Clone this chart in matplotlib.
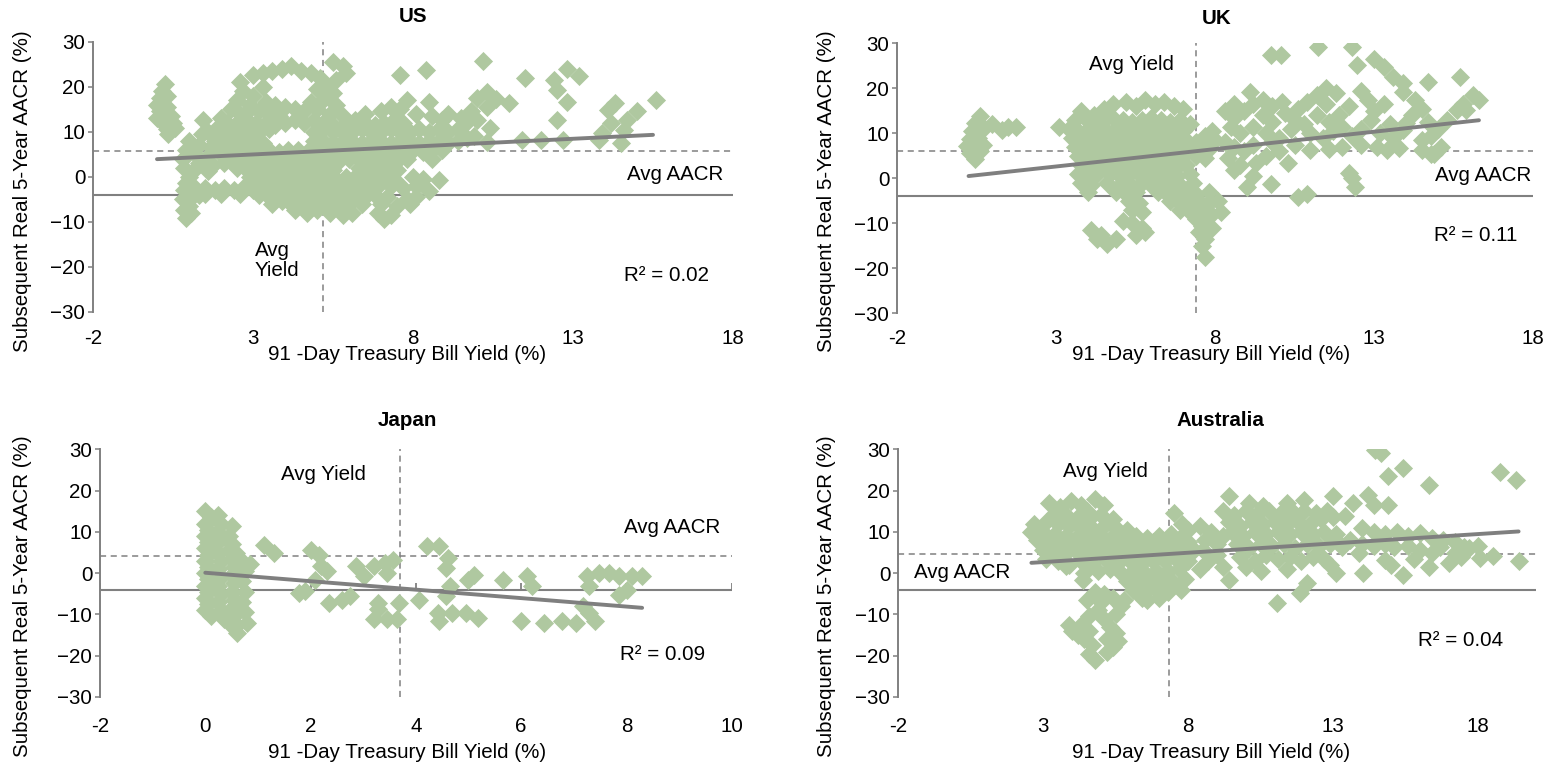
import matplotlib
matplotlib.use("Agg")
import matplotlib.pyplot as plt

plt.rcParams['font.family'] = ['Liberation Sans', 'DejaVu Sans']

# ------------------------------------------------------------------
# Data: (91-day T-bill yield %, subsequent real 5-year AACR %)
# ------------------------------------------------------------------
us_points = [
    (0.25, 20.5), (0.15, 19.0), (0.1, 17.5), (0.0, 16.0), (0.1, 14.5), (0.0, 13.0), (0.2, 12.0),
    (0.3, 10.5), (0.35, 9.5), (0.45, 13.5), (0.5, 12.0), (0.3, 15.5), (0.3, 18.0), (0.55, 10.8),
    (0.9, -9.2), (0.85, -7.5), (1.0, -6.5), (0.8, -5.0), (1.1, -4.5), (0.85, -3.0), (1.2, -2.5),
    (0.9, -1.5), (1.3, -4.0), (1.05, -8.0),
    (0.8, 4.0), (0.9, 6.0), (1.0, 8.0), (0.85, 2.0), (1.1, 1.0), (1.2, 5.0), (1.3, 7.0), (1.4, 9.5),
    (1.45, 12.5), (1.6, 10.0), (1.5, 4.0), (1.7, 6.5), (1.8, 8.0), (1.3, 3.0), (1.0, 0.0), (1.9, 11.0),
    (2.0, 13.0), (2.1, 9.5), (2.2, 7.0), (2.0, 5.0), (1.75, 2.5), (2.1, 3.0), (1.6, 1.2),
    (1.5, -2.5), (1.8, -3.0), (2.1, -2.5), (2.4, -3.0), (2.7, -2.5), (3.0, -3.0), (1.5, -3.8),
    (2.0, -3.8), (2.6, -3.8),
    (2.3, 15.0), (2.6, 14.0), (2.9, 15.0), (3.2, 14.5), (3.5, 14.0), (3.8, 13.5),
    (2.2, 12.0), (2.5, 12.0), (2.8, 12.5), (3.1, 12.0), (3.4, 12.0), (3.7, 11.5), (4.0, 12.0), (4.3, 12.5),
    (2.3, 10.0), (2.6, 10.5), (2.9, 10.0), (3.2, 10.0), (3.5, 10.5),
    (2.4, 8.0), (2.7, 8.0), (3.0, 8.0), (3.3, 7.5),
    (2.3, 6.0), (2.6, 5.5), (2.9, 6.0), (3.2, 6.0), (3.5, 6.0), (3.8, 5.5),
    (2.4, 4.0), (2.7, 4.0), (3.0, 3.5), (3.3, 4.0), (3.6, 4.0), (3.9, 3.5),
    (2.5, 2.0), (2.8, 1.5), (3.1, 2.0), (3.4, 2.0), (3.7, 1.5), (4.0, 2.0),
    (2.9, 0.0), (3.2, -0.5), (3.5, 0.0), (3.8, 0.0), (4.1, -0.5),
    (3.0, -2.0), (3.3, -2.5), (3.6, -2.0), (3.9, -2.5), (4.2, -2.0),
    (3.2, -4.0), (3.5, -4.5), (3.8, -4.0), (4.1, -4.5),
    (3.6, -6.0), (3.9, -5.5), (4.2, -6.0),
    (2.5, 17.0), (2.7, 19.0), (2.6, 21.0), (3.0, 22.5), (3.0, 18.0), (3.3, 20.0), (3.3, 23.0),
    (3.6, 23.5), (3.9, 24.0), (4.2, 24.5), (4.5, 23.5), (4.8, 23.0), (5.1, 22.0), (5.5, 25.5),
    (5.8, 24.5), (5.9, 23.0), (5.6, 21.5), (5.3, 20.0), (5.0, 19.5), (5.5, 18.5), (5.2, 17.0),
    (4.8, 16.5), (5.6, 16.0), (3.7, 16.0), (4.0, 15.5), (4.3, 15.0), (4.6, 14.5), (5.0, 15.0),
    (5.4, 14.0), (5.8, 13.5), (2.9, 16.0), (3.4, 16.5),
    (4.6, 12.0), (4.9, 12.5), (5.2, 12.0), (5.5, 11.5), (5.9, 12.0), (6.2, 12.5), (6.5, 12.0),
    (6.8, 11.5), (7.1, 12.0), (7.4, 12.5), (7.7, 12.0), (6.5, 14.0), (7.0, 14.5), (7.3, 15.5),
    (4.9, 10.0), (5.2, 10.5), (5.5, 10.0), (5.8, 10.0), (6.1, 10.0), (6.4, 10.5), (6.7, 10.0),
    (7.0, 10.0), (7.3, 10.5), (7.6, 10.0), (7.9, 10.0), (8.2, 10.5), (8.5, 10.0), (8.8, 10.5),
    (9.1, 10.0), (9.4, 10.5),
    (4.9, 8.0), (5.2, 8.0), (5.5, 7.5), (5.8, 8.0), (6.1, 8.0), (6.4, 7.5), (6.7, 8.0), (7.0, 8.0),
    (7.3, 7.5), (7.6, 8.0), (7.9, 8.0), (8.2, 7.5), (8.5, 8.0), (8.8, 8.0), (9.1, 7.5), (9.4, 8.0),
    (9.7, 8.5),
    (4.1, 6.0), (4.4, 6.0), (4.7, 5.5), (5.0, 6.0), (5.3, 6.0), (5.6, 5.5), (5.9, 6.0), (6.2, 6.0),
    (6.5, 5.5), (6.8, 6.0), (7.1, 6.0), (7.4, 5.5), (7.7, 6.0), (8.0, 6.0), (8.3, 5.5), (8.6, 6.0),
    (8.9, 6.0),
    (4.2, 4.0), (4.5, 4.0), (4.8, 3.5), (5.1, 4.0), (5.4, 4.0), (5.7, 3.5), (6.0, 4.0), (6.3, 4.0),
    (6.6, 3.5), (6.9, 4.0), (7.2, 4.0), (7.5, 3.5), (7.8, 4.0), (8.6, 4.0),
    (4.3, 2.0), (4.6, 1.5), (4.9, 2.0), (5.2, 2.0), (5.5, 1.5), (6.3, 2.0), (6.6, 1.5), (6.9, 2.0),
    (7.2, 2.0), (7.5, 1.5),
    (4.4, 0.0), (4.7, -0.5), (5.0, 0.0), (5.3, 0.0), (5.6, -0.5), (5.9, 0.0), (6.2, 0.0), (6.5, -0.5),
    (6.8, 0.0), (7.1, 0.0), (7.4, -0.5), (8.0, 0.0), (8.3, -0.5), (8.8, -0.7),
    (4.5, -2.0), (4.8, -2.5), (5.1, -2.0), (5.4, -2.0), (5.7, -2.5), (6.0, -2.0), (6.3, -2.0),
    (6.6, -2.5), (6.9, -2.0), (7.3, -2.0), (7.7, -2.5), (8.1, -2.0), (8.5, -3.2),
    (4.4, -4.0), (4.7, -4.5), (5.0, -4.0), (5.3, -4.0), (5.6, -4.5), (5.9, -4.0), (6.2, -4.0),
    (6.5, -4.5), (6.8, -4.0), (7.2, -4.5), (7.8, -5.0), (8.1, -4.5),
    (4.5, -6.0), (4.8, -6.5), (5.1, -6.0), (5.4, -6.0), (5.7, -6.5), (6.0, -6.0), (6.4, -6.0),
    (7.0, -6.0), (7.5, -6.5), (7.9, -6.0),
    (4.3, -7.5), (4.7, -8.0), (5.0, -7.5), (5.4, -8.0), (5.8, -8.5), (6.1, -8.0), (6.9, -8.0),
    (7.3, -8.5), (7.1, -9.5),
    (7.6, 22.6), (8.4, 23.6), (10.2, 25.6), (7.8, 17.0), (8.5, 16.7), (7.6, 15.0), (8.1, 14.0),
    (8.6, 13.5), (8.9, 12.5), (9.1, 14.0), (9.5, 13.0), (9.8, 14.5), (10.0, 17.5), (10.3, 18.8),
    (10.6, 17.2), (10.3, 15.5), (10.0, 12.5), (10.4, 10.8), (11.0, 16.3), (9.6, 11.5), (9.9, 9.0),
    (10.3, 7.8), (11.5, 21.9), (12.4, 21.5), (12.8, 23.9), (13.2, 22.3), (12.5, 19.3), (12.8, 16.7),
    (12.5, 12.6), (11.4, 8.2), (12.0, 8.2), (12.7, 8.2), (13.8, 8.2), (14.5, 7.4), (14.2, 11.9),
    (14.1, 14.8), (14.3, 16.3), (14.7, 12.6), (15.0, 14.5), (15.6, 17.1), (14.6, 10.4), (13.9, 9.7),
]

uk_points = [
    (0.6, 13.8), (0.45, 12.2), (0.35, 10.5), (0.3, 8.8), (0.2, 7.2), (0.3, 5.6), (0.45, 4.2),
    (0.6, 6.0), (0.55, 9.0), (0.75, 11.2), (1.0, 12.0), (1.3, 10.8), (1.5, 11.5), (1.75, 11.3), (0.7, 7.5),
    (4.5, 15.5), (4.8, 16.5), (5.2, 17.0), (5.5, 16.0), (5.8, 17.5), (6.1, 16.5), (6.4, 17.0),
    (6.7, 16.0), (7.0, 15.5), (3.8, 15.0), (4.2, 14.0),
    (3.6, 13.0), (3.9, 13.5), (4.2, 12.5), (4.5, 13.0), (4.8, 13.5), (5.1, 13.0), (5.4, 12.5),
    (5.7, 13.0), (6.0, 13.5), (6.3, 13.0), (6.6, 12.5), (6.9, 13.0), (7.2, 12.0),
    (3.1, 11.3), (3.4, 11.0), (3.7, 10.5), (4.0, 11.0), (4.3, 11.0), (4.6, 10.5), (4.9, 11.0),
    (5.2, 11.0), (5.5, 10.5), (5.8, 11.0), (6.1, 11.0), (6.4, 10.5), (6.7, 11.0), (7.0, 10.5),
    (3.5, 9.0), (3.8, 8.5), (4.1, 9.0), (4.4, 9.0), (4.7, 8.5), (5.0, 9.0), (5.3, 9.0), (5.6, 8.5),
    (5.9, 9.0), (6.2, 9.0), (6.5, 8.5), (6.8, 9.0), (7.1, 8.5), (7.4, 8.0),
    (3.6, 7.0), (3.9, 6.5), (4.2, 7.0), (4.5, 7.0), (4.8, 6.5), (5.1, 7.0), (5.4, 7.0), (5.7, 6.5),
    (6.0, 7.0), (6.3, 7.0), (6.6, 6.5), (6.9, 7.0), (7.2, 6.5), (7.5, 7.0), (7.8, 6.5),
    (3.7, 5.0), (4.0, 4.5), (4.3, 5.0), (4.6, 5.0), (4.9, 4.5), (5.2, 5.0), (5.5, 5.0), (5.8, 4.5),
    (6.1, 5.0), (6.4, 5.0), (6.7, 4.5), (7.0, 5.0), (7.4, 5.0), (7.7, 4.5),
    (3.8, 3.0), (4.1, 2.5), (4.4, 3.0), (4.7, 3.0), (5.0, 2.5), (5.3, 3.0), (5.6, 3.0), (5.9, 2.5),
    (6.2, 3.0), (6.5, 3.0), (6.8, 2.5), (7.1, 3.0),
    (3.7, 1.0), (4.0, 0.5), (4.3, 1.0), (4.7, 1.0), (5.0, 0.5), (5.3, 1.0), (5.6, 1.0), (5.9, 0.5),
    (6.2, 1.0), (6.5, 1.0), (6.8, 0.5), (7.2, 1.0),
    (3.8, -1.0), (4.1, -1.5), (4.6, -1.0), (5.0, -1.5), (5.3, -1.0), (5.7, -1.0), (6.0, -1.5),
    (6.3, -1.0), (6.6, -1.0), (6.9, -1.5), (7.3, -1.0),
    (4.0, -3.0), (4.9, -3.0), (5.2, -3.5), (5.5, -3.0), (6.2, -3.0), (6.5, -3.5), (6.8, -3.0),
    (7.1, -3.0), (7.4, -3.5), (7.8, -3.0),
    (5.3, -5.0), (5.6, -5.5), (6.6, -5.0), (6.9, -5.5), (7.2, -5.0), (7.5, -5.0), (7.8, -5.5), (8.1, -5.0),
    (5.4, -7.0), (5.7, -7.5), (6.9, -7.0), (7.2, -7.5), (7.5, -7.0), (7.8, -7.5), (8.2, -7.5),
    (5.1, -9.5), (5.4, -10.0), (5.7, -11.0), (5.5, -12.5), (5.8, -12.0), (4.1, -11.5), (4.4, -12.5),
    (4.6, -14.5), (4.9, -13.5), (4.3, -13.5), (7.4, -9.0), (7.6, -10.5), (7.5, -12.0), (7.7, -13.5),
    (7.6, -15.0), (7.7, -17.5), (7.9, -11.0), (7.8, -8.5),
    (7.7, 9.5), (8.0, 8.5), (8.3, 8.0), (7.9, 10.5), (8.6, 7.0), (8.9, 6.0), (8.4, 4.5), (8.8, 3.0),
    (8.6, 1.8), (9.0, -1.9), (9.2, 0.5), (9.75, -1.2), (9.3, 3.5), (9.6, 5.0), (10.3, 3.3),
    (9.2, 7.5), (9.8, 8.0), (10.0, 6.0), (10.6, -4.1), (10.9, -3.4), (11.0, 6.3), (10.5, 7.5),
    (12.2, 1.1), (12.4, -1.9), (12.3, 0.0), (13.1, 7.0), (13.4, 6.2), (14.5, 6.3), (14.8, 5.5),
    (8.6, 16.6), (8.3, 15.0), (9.1, 19.2), (8.6, 13.5), (8.9, 15.0), (9.2, 16.5), (9.5, 17.5),
    (9.8, 16.0), (10.1, 17.0), (9.5, 14.0), (9.8, 12.5), (10.2, 14.5), (10.5, 13.0), (9.2, 11.5),
    (8.5, 11.5), (8.8, 10.0), (10.4, 11.0), (10.8, 12.0), (10.6, 15.5), (10.9, 17.0), (11.2, 18.5),
    (11.5, 20.0), (11.8, 19.0), (11.5, 16.5), (11.2, 14.0), (11.6, 12.5), (11.9, 14.0), (12.2, 16.0),
    (11.0, 10.0), (11.4, 9.0), (11.7, 10.5), (12.0, 11.5), (12.3, 9.5), (12.6, 11.0), (12.9, 13.0),
    (12.8, 17.5), (12.6, 19.5), (13.0, 15.0), (13.3, 16.5), (13.5, 12.0), (13.2, 10.0), (13.6, 9.0),
    (13.9, 10.7), (14.0, 12.2), (14.2, 14.0), (14.5, 15.5), (14.3, 17.4), (14.7, 12.5), (14.5, 8.5),
    (14.8, 9.5), (15.0, 11.0), (15.3, 13.0), (15.6, 15.1), (15.8, 16.6), (16.1, 18.6), (16.3, 17.4),
    (15.9, 15.1), (12.6, 7.5), (12.0, 7.0), (11.6, 6.5), (13.8, 6.8), (15.1, 7.0), (14.9, 5.5),
    (10.0, 9.0), (9.6, 10.0),
    (9.75, 27.4), (10.07, 27.4), (11.23, 29.2), (12.3, 29.2), (12.45, 25.1), (13.0, 26.6),
    (13.3, 24.8), (13.6, 22.6), (13.9, 21.1), (13.9, 19.2), (14.7, 21.4), (15.7, 22.6),
]

jp_points = [
    (0.0, 15.0), (0.1, 13.5), (0.0, 12.0), (0.05, 10.5), (0.0, 9.0), (0.05, 7.5), (0.0, 6.0),
    (0.05, 4.5), (0.0, 3.0), (0.05, 1.5), (0.0, 0.0), (0.05, -1.5), (0.0, -3.0), (0.05, -4.5),
    (0.0, -6.0), (0.05, -7.5), (0.0, -9.0), (0.1, -10.5),
    (0.25, 14.0), (0.3, 12.0), (0.25, 10.0), (0.3, 8.5), (0.2, 7.0), (0.25, 5.0), (0.3, 3.0),
    (0.25, 1.0), (0.3, -1.0), (0.25, -3.0), (0.3, -5.0), (0.25, -7.0), (0.3, -9.0), (0.35, -11.0),
    (0.5, 11.3), (0.45, 9.0), (0.5, 7.0), (0.45, 5.5), (0.5, 3.5), (0.55, 1.5), (0.5, -0.5),
    (0.55, -2.5), (0.5, -4.5), (0.55, -6.5), (0.5, -8.5), (0.55, -10.5), (0.6, -12.5), (0.6, -14.5),
    (0.45, -12.0), (0.7, 3.0), (0.75, 0.5), (0.7, -2.0), (0.75, -4.5), (0.7, -7.0), (0.75, -9.5),
    (0.8, -12.0), (0.85, 2.1), (0.58, 4.9),
    (1.12, 6.9), (1.31, 4.9),
    (2.01, 5.7), (2.17, 4.5), (2.2, 1.7), (2.32, 0.4), (2.09, -1.6), (1.89, -4.4), (1.78, -4.8),
    (2.36, -7.2), (2.59, -6.4), (2.75, -5.6),
    (2.86, 1.7), (3.02, -0.8), (3.21, 1.7), (3.41, 2.5), (3.56, 3.3), (3.45, 0.1), (3.29, -7.2),
    (3.21, -11.2), (3.45, -11.2), (3.64, -11.2), (3.68, -7.2), (3.29, -8.8),
    (4.22, 6.5), (4.45, 6.5), (4.61, 3.7), (4.57, 1.3), (4.65, -3.2), (4.57, -5.6), (4.07, -6.4),
    (4.42, -9.6), (4.45, -11.7), (4.69, -9.6), (4.96, -9.6), (5.19, -10.8), (5.0, -1.6), (5.11, -0.4),
    (5.66, -1.6), (6.12, -0.8), (6.2, -3.2), (6.0, -11.7), (6.43, -12.1), (6.78, -11.7), (7.05, -12.1),
    (7.29, -9.6), (7.4, -11.7), (7.25, -0.8), (7.48, 0.0), (7.67, 0.0), (7.87, -0.8), (8.1, -0.8),
    (8.29, -0.8), (7.29, -3.2), (7.87, -5.2), (8.02, -4.0), (7.17, -8.0),
]

au_points = [
    (3.2, 17.0), (3.6, 16.0), (3.95, 17.4), (4.3, 16.5), (4.8, 18.0), (5.1, 16.5), (4.5, 15.0),
    (3.4, 14.5), (3.8, 14.0), (4.2, 13.5), (4.6, 13.0), (5.0, 14.0), (5.4, 13.0),
    (2.7, 12.0), (3.1, 12.5), (3.5, 12.0), (3.9, 11.5), (4.3, 11.0), (4.7, 11.0), (5.1, 11.5),
    (5.5, 11.0), (5.9, 10.5),
    (2.6, 10.0), (3.0, 10.0), (3.4, 9.5), (3.8, 9.0), (4.2, 9.0), (4.6, 9.5), (5.0, 9.0), (5.4, 9.0),
    (5.8, 8.5), (6.2, 9.0), (6.6, 8.5), (7.0, 9.0), (7.4, 9.5), (7.8, 9.0),
    (2.8, 8.0), (3.2, 7.5), (3.6, 7.0), (4.0, 7.0), (4.4, 7.5), (4.8, 7.0), (5.2, 7.0), (5.6, 6.5),
    (6.0, 7.0), (6.4, 7.0), (6.8, 7.5), (7.2, 7.0), (7.6, 7.0), (8.0, 7.5),
    (3.0, 5.5), (3.4, 5.0), (3.8, 5.0), (4.2, 5.0), (4.6, 4.5), (5.0, 5.0), (5.4, 5.0), (5.8, 4.5),
    (6.2, 5.0), (6.6, 5.0), (7.0, 5.5), (7.4, 5.0), (7.8, 5.0), (8.2, 5.5),
    (3.1, 3.5), (3.5, 3.0), (3.9, 2.0), (4.3, 3.0), (4.7, 2.5), (5.2, 3.0), (5.6, 2.5), (6.0, 3.0),
    (6.4, 2.5), (6.8, 3.0), (7.2, 3.0), (7.6, 3.5), (8.0, 3.0),
    (4.4, 0.0), (4.9, 0.5), (5.3, 1.0), (5.7, 0.0), (6.1, 0.5), (6.5, 0.0), (6.9, 0.5), (7.3, 0.5),
    (7.7, 1.0), (5.9, -2.0), (6.3, -2.5), (6.7, -1.5), (7.1, -2.0), (7.5, -2.5), (7.9, -1.5),
    (6.1, -4.0), (6.5, -4.5), (6.9, -4.0), (7.3, -4.5), (7.75, -4.0), (6.6, -6.5), (7.0, -6.0),
    (6.4, -6.0), (7.8, 12.0), (7.5, 14.5), (8.0, 10.5), (8.4, 11.5), (8.8, 10.0), (9.2, 9.0),
    (8.6, 8.0), (9.0, 7.0), (8.5, 5.5), (9.0, 4.5), (8.7, 3.0), (9.4, -1.6), (9.2, 1.5), (8.4, 1.0),
    (4.37, -1.6), (3.8, 1.7),
    (4.0, -14.0), (4.3, -12.5), (4.6, -14.0), (4.4, -16.0), (4.7, -17.5), (4.6, -19.5), (4.8, -21.0),
    (4.2, -15.0), (3.9, -12.5), (4.6, -10.5), (4.9, -9.0), (5.1, -11.0), (5.3, -13.0), (5.5, -14.5),
    (5.6, -16.5), (5.4, -18.0), (5.2, -16.0), (5.0, -7.0), (4.5, -6.5), (5.4, -6.0), (5.7, -8.0),
    (5.5, -10.0), (4.8, -4.5), (5.1, -5.0), (5.8, -6.5), (5.2, -19.0),
    (9.41, 18.6), (10.1, 17.0), (10.6, 16.2), (11.4, 17.0), (12.0, 17.8), (13.0, 18.6),
    (9.2, 15.0), (9.6, 14.0), (10.0, 15.0), (10.4, 14.5), (10.8, 15.0), (11.2, 14.5), (11.6, 15.0),
    (12.0, 15.0), (12.4, 14.5), (12.8, 15.0),
    (9.4, 12.5), (9.8, 11.5), (10.2, 12.5), (10.6, 12.0), (11.0, 12.5), (11.4, 12.0), (11.8, 12.5),
    (12.2, 12.0), (12.6, 13.0), (13.0, 13.5), (13.4, 13.8),
    (9.5, 10.0), (9.9, 9.0), (10.3, 10.0), (10.7, 9.5), (11.1, 10.0), (11.5, 9.5), (11.9, 10.0),
    (12.3, 9.5), (12.7, 10.0), (13.1, 9.5),
    (9.7, 7.0), (10.1, 6.0), (10.5, 7.0), (10.9, 6.5), (11.3, 7.0), (11.7, 6.0), (12.1, 7.0),
    (12.5, 6.5), (12.9, 7.0), (13.3, 6.5),
    (9.8, 4.0), (10.3, 3.0), (10.7, 4.5), (11.1, 3.5), (11.5, 4.0), (11.9, 3.0), (12.3, 4.0),
    (12.7, 3.5), (13.1, 0.0), (12.9, 2.0), (11.06, -7.2), (11.86, -4.8), (12.1, -2.5), (10.0, 1.5),
    (10.5, 0.5), (11.4, 1.0),
    (13.7, 17.0), (14.2, 19.0), (14.4, 16.6), (14.9, 16.6), (14.0, 11.0), (14.4, 10.0), (14.8, 9.5),
    (15.2, 10.0), (15.6, 9.0), (16.0, 9.7), (16.4, 8.5), (16.8, 8.0), (17.2, 7.5), (17.5, 6.4),
    (18.0, 6.5), (13.6, 8.0), (14.0, 7.0), (14.4, 6.5), (14.8, 7.0), (15.1, 6.4), (15.6, 6.5),
    (16.0, 5.5), (16.4, 5.0), (16.7, 6.4), (17.2, 5.0), (17.7, 6.1), (18.5, 4.1), (19.4, 2.9),
    (18.07, 3.6), (17.4, 4.0), (14.05, 0.0), (15.4, -0.4), (13.9, 4.8), (14.6, 8.1), (14.8, 3.2),
    (15.0, 2.0), (15.8, 3.5), (16.3, 1.6), (17.0, 2.5), (13.3, 6.4),
    (14.45, 29.9), (14.65, 29.1), (14.9, 23.6), (15.4, 25.4), (16.3, 21.4), (18.76, 24.6), (19.3, 22.6),
]

# Reference levels: average yield (vertical), average AACR (horizontal)
avg_yield = {'US': 5.2, 'UK': 7.4, 'Japan': 3.7, 'Australia': 7.33}
avg_aacr = {'US': 5.8, 'UK': 6.0, 'Japan': 4.1, 'Australia': 4.7}
axis_cross = -4.0

# Linear trend endpoints (yield, AACR)
trend_x = {'US': [0.0, 15.5], 'UK': [0.25, 16.3], 'Japan': [0.0, 8.3], 'Australia': [2.6, 19.4]}
trend_y = {'US': [3.9, 9.3], 'UK': [0.5, 12.9], 'Japan': [0.1, -8.4], 'Australia': [2.5, 10.1]}
r_squared = {'US': '0.02', 'UK': '0.11', 'Japan': '0.09', 'Australia': '0.04'}

x_limits = {'US': (-2, 18), 'UK': (-2, 18), 'Japan': (-2, 10), 'Australia': (-2, 20)}
x_ticks = {'US': [-2, 3, 8, 13, 18], 'UK': [-2, 3, 8, 13, 18],
           'Japan': [-2, 0, 2, 4, 6, 8, 10], 'Australia': [-2, 3, 8, 13, 18]}
y_ticks = [-30, -20, -10, 0, 10, 20, 30]

x_label = '91 -Day Treasury Bill Yield (%)'
y_label = 'Subsequent Real 5-Year AACR (%)'

# ------------------------------------------------------------------
# Layout (pixel geometry of the 1547 x 764 canvas)
# ------------------------------------------------------------------
W, H = 1547, 764
FS = 14.8
GREEN = '#afc8a0'
GRAY = '#808080'

fig = plt.figure(figsize=(W / 100, H / 100), dpi=100)


def fx(px):
    return px / W


def fy(py):
    return 1 - py / H


panels = {
    # name: (left, top, right, bottom) in pixels, title centre, xlabel centre, ylabel centre, tick-label row
    'US': dict(box=(93, 41.7, 733, 311.7), title=(413, 17), xl=(407, 355), yl=(23, 191), tl=337),
    'UK': dict(box=(897, 43.3, 1533, 313.3), title=(1217, 19), xl=(1211, 355), yl=(827, 191), tl=337),
    'Japan': dict(box=(100, 449.3, 731.6, 697), title=(407, 421), xl=(407, 752), yl=(23, 596), tl=725),
    'Australia': dict(box=(898, 449.3, 1536, 697), title=(1220, 421), xl=(1211, 752), yl=(827, 596), tl=725),
}

# annotation placements (data coordinates)
notes = {
    'US': dict(yield_txt=(3.06, -18.6, 'Avg\nYield'), aacr_txt=(17.7, 0.4, 'right'), r2=(14.6, -22.0)),
    'UK': dict(yield_txt=(4.05, 25.2, 'Avg Yield'), aacr_txt=(17.95, 0.7, 'right'), r2=(14.9, -12.8)),
    'Japan': dict(yield_txt=(1.43, 23.8, 'Avg Yield'), aacr_txt=(9.79, 11.0, 'right'), r2=(7.88, -19.8)),
    'Australia': dict(yield_txt=(3.7, 24.6, 'Avg Yield'), aacr_txt=(-1.45, 0.07, 'left'), r2=(15.94, -16.4)),
}

data = {'US': us_points, 'UK': uk_points, 'Japan': jp_points, 'Australia': au_points}

for name, cfg in panels.items():
    l, t, r, b = cfg['box']
    ax = fig.add_axes([fx(l), fy(b), (r - l) / W, (b - t) / H])
    ax.set_xlim(*x_limits[name])
    ax.set_ylim(-30, 30)

    xs, ys = zip(*data[name])
    ax.axhline(avg_aacr[name], color=GRAY, lw=1.1, ls=(0, (4, 3)), zorder=1)
    ax.axvline(avg_yield[name], color=GRAY, lw=1.1, ls=(0, (4, 3)), zorder=1)
    ax.axhline(axis_cross, color=GRAY, lw=1.5, zorder=1)
    if name == 'Japan':
        ax.vlines(x_ticks[name], axis_cross, axis_cross + 1.6, color=GRAY, lw=1.3, zorder=1)
    ax.scatter(xs, ys, marker='D', s=95, color=GREEN, linewidths=0, zorder=3)
    ax.plot(trend_x[name], trend_y[name], color='#7f7f7f', lw=2.8, solid_capstyle='round', zorder=4)

    for side in ('top', 'right', 'bottom'):
        ax.spines[side].set_visible(False)
    ax.spines['left'].set_color(GRAY)
    ax.spines['left'].set_linewidth(1.4)
    ax.set_yticks(y_ticks)
    ax.tick_params(axis='y', direction='out', length=3.5, width=1.1, color=GRAY, pad=2,
                   labelsize=FS, labelcolor='black')
    ax.set_xticks(x_ticks[name])
    ax.set_xticklabels([])
    ax.tick_params(axis='x', length=0)
    # x tick labels sit on a fixed row below the plot area
    row = (b - (cfg['tl'] + 7.3)) / (b - t)
    for tv in x_ticks[name]:
        ax.text(tv, row, f'{tv}', transform=ax.get_xaxis_transform(), ha='center',
                va='baseline', fontsize=FS, clip_on=False)

    n = notes[name]
    yx, yy, ytxt = n['yield_txt']
    ax.text(yx, yy, ytxt, ha='left', va='center', fontsize=FS, linespacing=1.05, zorder=5)
    ax_x, ax_y, ax_ha = n['aacr_txt']
    ax.text(ax_x, ax_y, 'Avg AACR', ha=ax_ha, va='center', fontsize=FS, zorder=5)
    ax.text(n['r2'][0], n['r2'][1], f'R² = {r_squared[name]}', ha='left', va='center',
            fontsize=FS, zorder=5)

    fig.text(fx(cfg['title'][0]), fy(cfg['title'][1]), name, ha='center', va='center',
             fontsize=FS, fontweight='bold')
    fig.text(fx(cfg['xl'][0]), fy(cfg['xl'][1]), x_label, ha='center', va='center', fontsize=FS)
    fig.text(fx(cfg['yl'][0]), fy(cfg['yl'][1]), y_label, ha='center', va='center',
             fontsize=FS, rotation=90)

fig.savefig('out.png', dpi=100)
